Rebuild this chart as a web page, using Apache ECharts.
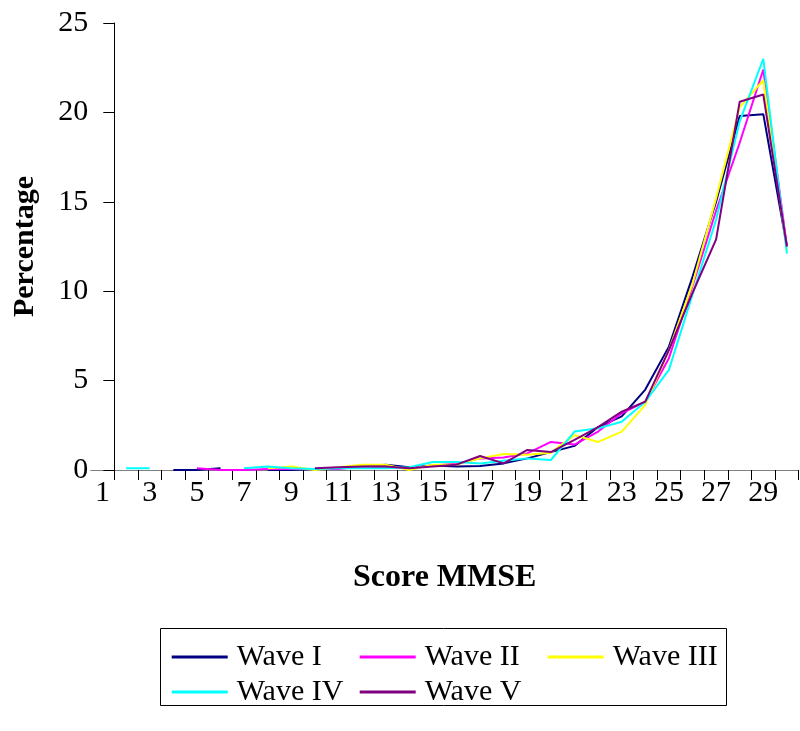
<!DOCTYPE html>
<html>
<head>
<meta charset="utf-8">
<script src="https://cdn.jsdelivr.net/npm/echarts@6/dist/echarts.min.js"></script>
<style>
html,body{margin:0;padding:0;background:#fff;}
#chart{width:800px;height:731px;}
</style>
</head>
<body>
<div id="chart"></div>
<script>
const categories = ['1','2','3','4','5','6','7','8','9','10','11','12','13','14','15','16','17','18','19','20','21','22','23','24','25','26','27','28','29','30'];
const seriesNames = ['Wave I','Wave II','Wave III','Wave IV','Wave V'];
const waveI   = [null,null,null,0,0,0.1,null,0,0,0.05,0.1,0.2,0.3,0.15,0.25,0.2,0.22,0.37,0.65,1.0,1.35,2.4,3.0,4.5,6.9,10.8,15.0,19.8,19.9,12.5];
const waveII  = [null,null,null,null,0.1,0,0,0.05,0.05,0.05,0.05,0.2,0.15,0.1,0.25,0.35,0.65,0.7,0.93,1.57,1.42,2.15,3.17,3.82,6.25,10.3,14.5,18.3,22.4,12.5];
const waveIII = [null,null,null,null,null,null,null,0.1,0.2,0,0.15,0.3,0.3,0,0.3,0.3,0.65,0.9,0.85,0.97,1.95,1.57,2.15,3.64,6.7,10.4,15.2,20.3,21.8,12.3];
const waveIV  = [null,0.1,0.1,null,null,null,0.1,0.2,0.1,0.05,0.1,0.1,0.1,0.15,0.45,0.45,0.37,0.52,0.65,0.56,2.15,2.33,2.7,3.82,5.6,9.8,14.0,19.5,23.0,12.1];
const waveV   = [null,null,null,null,null,null,null,null,null,0.1,0.15,0.2,0.2,0.1,0.2,0.3,0.78,0.37,1.12,1.0,1.68,2.4,3.26,3.82,6.7,9.9,12.9,20.6,21.0,12.5];
const seriesColors = ['#000080','#FF00FF','#FFFF00','#00FFFF','#800080'];
const yTicks = [0,5,10,15,20,25];

const allData = [waveI, waveII, waveIII, waveIV, waveV];
const font = 'Liberation Serif, Times New Roman, serif';

const chart = echarts.init(document.getElementById('chart'), null, {renderer:'canvas'});
chart.setOption({
  animation:false,
  backgroundColor:'#fff',
  grid:{left:90.7, right:1.3, top:23, bottom:261, containLabel:false, outerBoundsMode:'none'},
  xAxis:{
    type:'category',
    data:categories,
    boundaryGap:true,
    name:'Score MMSE',
    nameLocation:'middle',
    nameGap:92,
    nameTextStyle:{fontFamily:font, fontSize:32, fontWeight:'bold', color:'#000'},
    axisLine:{show:true, lineStyle:{color:'#808080', width:1}},
    axisTick:{show:true, length:10, interval:function(i){return i!==0;}, lineStyle:{color:'#000', width:1}},
    axisLabel:{interval:1, margin:8, fontFamily:font, fontSize:30, color:'#000'},
    splitLine:{show:false}
  },
  yAxis:{
    type:'value',
    min:yTicks[0], max:yTicks[yTicks.length-1], interval:5,
    offset:-23.6,
    name:'Percentage',
    nameLocation:'middle',
    nameRotate:90,
    nameGap:74,
    nameTextStyle:{fontFamily:font, fontSize:30, fontWeight:'bold', color:'#000'},
    axisLine:{show:true, lineStyle:{color:'#000', width:1}},
    axisTick:{show:true, length:11, lineStyle:{color:'#000', width:1}},
    axisLabel:{margin:26, fontFamily:font, fontSize:30, color:'#000'},
    splitLine:{show:false}
  },
  legend:{
    show:true,
    left:171.7, top:639.5, width:600,
    orient:'horizontal',
    padding:0,
    itemGap:0,
    itemWidth:56, itemHeight:3,
    icon:'rect',
    data:seriesNames,
    textStyle:{fontFamily:font, fontSize:30, color:'#000', width:123, lineHeight:35, padding:[0,0,0,4]}
  },
  graphic:[{
    type:'rect', silent:true,
    shape:{x:160.5, y:628.5, width:566, height:77},
    style:{fill:'none', stroke:'#000', lineWidth:1}
  }],
  series: allData.map(function(d, i){
    return {
      name:seriesNames[i], type:'line', data:d,
      showSymbol:false, symbol:'none',
      connectNulls:false,
      lineStyle:{color:seriesColors[i], width:2},
      itemStyle:{color:seriesColors[i]}
    };
  })
});
</script>
</body>
</html>
